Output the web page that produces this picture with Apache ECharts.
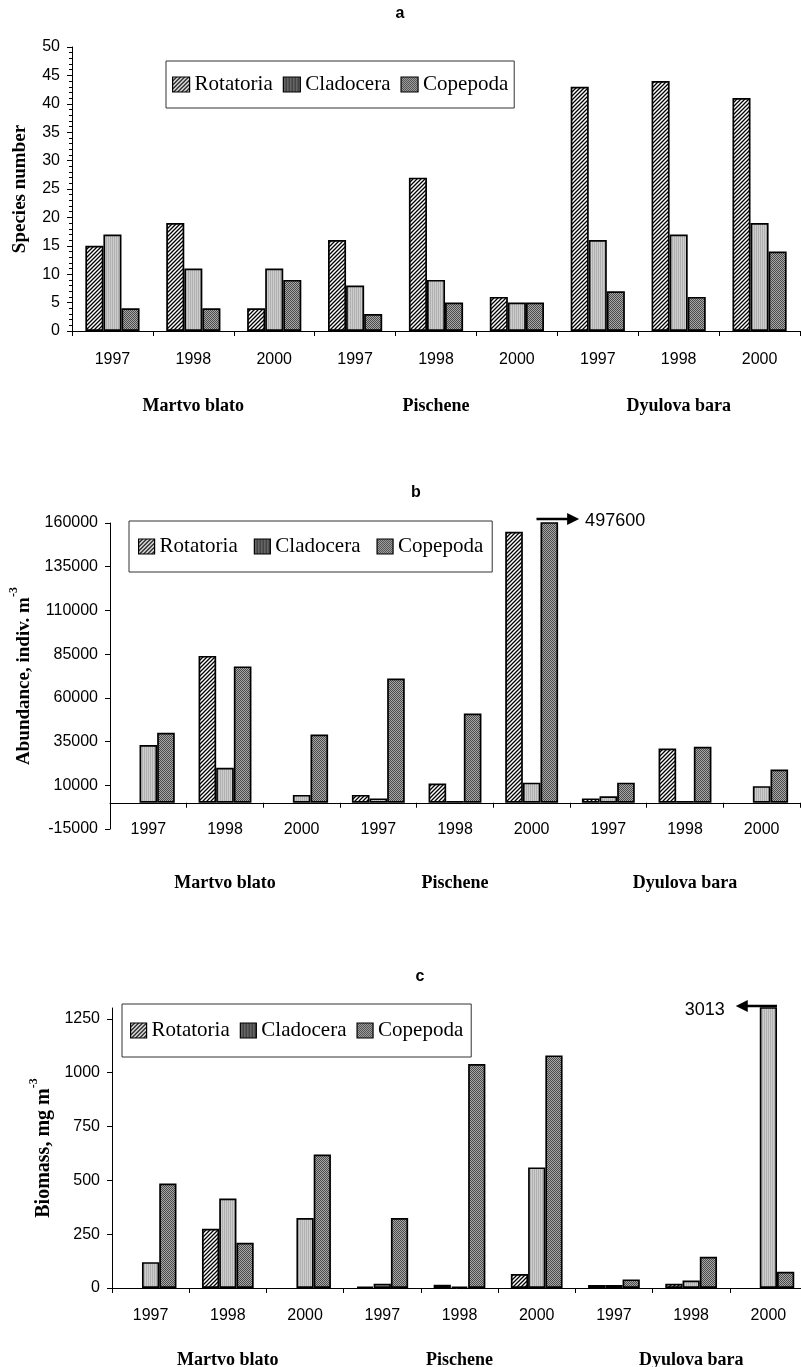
<!DOCTYPE html>
<html>
<head>
<meta charset="utf-8">
<script src="https://cdn.jsdelivr.net/npm/echarts@6/dist/echarts.min.js"></script>
<style>
  html, body { margin: 0; padding: 0; background: #fff; }
  #chart { width: 801px; height: 1367px; }
</style>
</head>
<body>
<div id="chart"></div>
<script>
// Categories
const years = ['1997', '1998', '2000', '1997', '1998', '2000', '1997', '1998', '2000'];
const sites = ['Martvo blato', 'Pischene', 'Dyulova bara'];
const taxa = ['Rotatoria', 'Cladocera', 'Copepoda'];

// a — species number
const speciesRotatoria = [15, 19, 4, 16, 27, 6, 43, 44, 41];
const speciesCladocera = [17, 11, 11, 8, 9, 5, 16, 17, 19];
const speciesCopepoda  = [4, 4, 9, 3, 5, 5, 7, 6, 14];

// b — abundance, indiv. m-3 (null = not recorded)
const abundRotatoria = [null, 84000, null, 4500, 11000, 155000, 2500, 31000, null];
const abundCladocera = [33000, 20000, 4500, 2500, 1000, 11500, 3700, 1000, 9500];
const abundCopepoda  = [40000, 78000, 39000, 71000, 51000, 497600, 11500, 32000, 19000];
const abundTicks = [-15000, 10000, 35000, 60000, 85000, 110000, 135000, 160000];

// c — biomass, mg m-3
const biomRotatoria = [null, 275, null, 6, 15, 65, 14, 20, null];
const biomCladocera = [120, 415, 325, 20, 7, 560, 14, 35, 3013];
const biomCopepoda  = [485, 210, 620, 325, 1040, 1080, 40, 145, 75];
const biomTicks = [0, 250, 500, 750, 1000, 1250];

// Fill textures
function tile(w, h, draw) {
  const c = document.createElement('canvas');
  c.width = w; c.height = h;
  draw(c.getContext('2d'));
  return { image: c, repeat: 'repeat' };
}
const hatchFill = tile(4, 4, (g) => {
  g.fillStyle = '#fff'; g.fillRect(0, 0, 4, 4);
  g.strokeStyle = '#000'; g.lineWidth = 1.3;
  g.beginPath();
  g.moveTo(-1, 5); g.lineTo(5, -1);
  g.moveTo(-1, 1); g.lineTo(1, -1);
  g.moveTo(3, 5); g.lineTo(5, 3);
  g.stroke();
});
const lightFill = tile(2, 2, (g) => {
  g.fillStyle = '#cdcdcd'; g.fillRect(0, 0, 2, 2);
  g.fillStyle = '#b0b0b0'; g.fillRect(0, 0, 1, 2);
});
const checkFill = tile(2, 2, (g) => {
  g.fillStyle = '#a8a8a8'; g.fillRect(0, 0, 2, 2);
  g.fillStyle = '#4a4a4a'; g.fillRect(0, 0, 1, 1); g.fillRect(1, 1, 1, 1);
});
// legend key for Cladocera is drawn darker, with vertical stripes
const stripeKey = tile(3, 1, (g) => {
  g.fillStyle = '#444'; g.fillRect(0, 0, 3, 1);
  g.fillStyle = '#777'; g.fillRect(1, 0, 1, 1);
});
const fills = [hatchFill, lightFill, checkFill];
const legendFills = [hatchFill, stripeKey, checkFill];

const SANS = 'Liberation Sans';
const SERIF = 'Liberation Serif';

const panels = [
  { data: [speciesRotatoria, speciesCladocera, speciesCopepoda],
    grid: { left: 72, top: 47, width: 728, height: 284 },
    y: { min: 0, max: 50, interval: 5 }, minor: true,
    yName: 'Species number', nameGap: 42, nameSize: 19,
    gap: '33%', yearMargin: 21, siteMargin: 66,
    legend: { left: 166, top: 61, padding: [13, 6, 13, 6], itemGap: 10, itemWidth: 17 } },
  { data: [abundRotatoria, abundCladocera, abundCopepoda],
    grid: { left: 110, top: 523, width: 690, height: 306 },
    y: { min: -15000, max: 160000, ticks: abundTicks }, minor: false,
    yName: '{t|Abundance, indiv. m}{s|-3}', nameGap: 72, nameSize: 19,
    gap: '31%', yearMargin: -7, siteMargin: 45,
    legend: { left: 129, top: 521, padding: [15, 9, 15, 9], itemGap: 16, itemWidth: 16 } },
  { data: [biomRotatoria, biomCladocera, biomCopepoda],
    grid: { left: 112, top: 1008, width: 695, height: 280 },
    y: { min: 0, max: 1300, ticks: biomTicks }, minor: false,
    yName: '{t|Biomass, mg m}{s|-3}', nameGap: 56, nameSize: 20,
    gap: '33%', yearMargin: 20, siteMargin: 63,
    legend: { left: 122, top: 1004, padding: [16, 8, 16, 8], itemGap: 10, itemWidth: 16 } }
];

const option = {
  animation: false,
  backgroundColor: '#fff',
  grid: [], xAxis: [], yAxis: [], series: [], legend: [],
  graphic: []
};

panels.forEach((p, i) => {
  option.grid.push(Object.assign({ containLabel: false, outerBoundsMode: 'none' }, p.grid));
  // years
  option.xAxis.push({
    type: 'category', gridIndex: i, data: years,
    axisLine: { show: true, onZero: true, lineStyle: { color: '#000', width: 1 } },
    axisTick: { show: true, length: 5, lineStyle: { color: '#000' } },
    axisLabel: { interval: 0, margin: p.yearMargin, color: '#000', fontFamily: SANS, fontSize: 16 },
    splitLine: { show: false }
  });
  // sites
  option.xAxis.push({
    type: 'category', gridIndex: i, position: 'bottom', data: sites,
    axisLine: { show: false, onZero: false }, axisTick: { show: false },
    axisLabel: { interval: 0, margin: p.siteMargin, color: '#000', fontFamily: SERIF, fontWeight: 'bold', fontSize: 18 },
    splitLine: { show: false }
  });
  const y = {
    type: 'value', gridIndex: i, min: p.y.min, max: p.y.max,
    name: p.yName, nameLocation: 'middle', nameRotate: 90, nameGap: p.nameGap,
    nameTextStyle: {
      color: '#000', fontFamily: SERIF, fontWeight: 'bold', fontSize: p.nameSize,
      rich: {
        t: { fontFamily: SERIF, fontWeight: 'bold', fontSize: p.nameSize, color: '#000', lineHeight: 26, verticalAlign: 'bottom' },
        s: { fontFamily: SERIF, fontWeight: 'bold', fontSize: 12, color: '#000', verticalAlign: 'top', lineHeight: 12 }
      }
    },
    axisLine: { show: true, lineStyle: { color: '#000', width: 1 } },
    axisTick: { show: true, length: 5, lineStyle: { color: '#000' } },
    minorTick: { show: p.minor, splitNumber: 5, length: 3, lineStyle: { color: '#000' } },
    axisLabel: { margin: 12, color: '#000', fontFamily: SANS, fontSize: 16, formatter: (v) => String(v) },
    splitLine: { show: false }
  };
  if (p.y.interval) {
    y.interval = p.y.interval;
  } else {
    y.axisTick.customValues = p.y.ticks;
    y.axisLabel.customValues = p.y.ticks;
  }
  option.yAxis.push(y);

  taxa.forEach((name, k) => {
    option.series.push({
      type: 'bar', name, data: p.data[k],
      xAxisIndex: i * 2, yAxisIndex: i,
      barGap: '0%', barCategoryGap: p.gap,
      itemStyle: { color: fills[k], borderColor: '#000', borderWidth: 1.7 },
      clip: true
    });
  });

  option.legend.push({
    data: taxa.map((name, k) => ({ name, itemStyle: { color: legendFills[k], borderColor: '#000', borderWidth: 1.2 } })),
    orient: 'horizontal',
    left: p.legend.left, top: p.legend.top, padding: p.legend.padding,
    itemGap: p.legend.itemGap, itemWidth: p.legend.itemWidth, itemHeight: 15,
    icon: 'rect', selectedMode: false,
    borderColor: '#333', borderWidth: 1, backgroundColor: '#fff',
    textStyle: { color: '#000', fontFamily: SERIF, fontSize: 21 }
  });
});

// panel letters
[['a', 400, 14], ['b', 416, 493], ['c', 420, 977]].forEach(([t, x, yy]) => {
  option.graphic.push({
    type: 'text', x, y: yy,
    style: { text: t, fill: '#000', font: 'bold 16px ' + SANS, textAlign: 'center', textVerticalAlign: 'middle' }
  });
});

const chart = echarts.init(document.getElementById('chart'), null, { renderer: 'canvas' });
chart.setOption(option);

// Off-scale bars: arrows with the true value at the clipped top
function layoutOf(seriesIndex, dataIndex) {
  return chart.getModel().getSeriesByIndex(seriesIndex).getData().getItemLayout(dataIndex);
}
const arrows = [];
{
  // b: Copepoda, Pischene 2000 — arrow to the right
  const idx = 5;
  const r = layoutOf(5, idx);
  const top = chart.convertToPixel({ yAxisIndex: 1 }, abundTicks[abundTicks.length - 1]) - 4;
  const x0 = r.x - 4, tip = r.x + r.width + 21;
  arrows.push(
    { type: 'line', shape: { x1: x0, y1: top, x2: tip - 10, y2: top }, style: { stroke: '#000', lineWidth: 2.5 }, z: 100 },
    { type: 'polygon', shape: { points: [[tip, top], [tip - 12, top - 6], [tip - 12, top + 6]] }, style: { fill: '#000' }, z: 100 },
    { type: 'text', x: tip + 6, y: top + 2, style: { text: String(abundCopepoda[idx]), fill: '#000', font: '18px ' + SANS, textAlign: 'left', textVerticalAlign: 'middle' }, z: 100 }
  );
}
{
  // c: Cladocera, Dyulova bara 2000 — arrow to the left
  const idx = 8;
  const r = layoutOf(7, idx);
  const top = chart.convertToPixel({ yAxisIndex: 2 }, 1300) - 2;
  const x0 = r.x + r.width, tip = r.x - 24;
  arrows.push(
    { type: 'line', shape: { x1: x0, y1: top, x2: tip + 10, y2: top }, style: { stroke: '#000', lineWidth: 2.5 }, z: 100 },
    { type: 'polygon', shape: { points: [[tip, top], [tip + 12, top - 6], [tip + 12, top + 6]] }, style: { fill: '#000' }, z: 100 },
    { type: 'text', x: tip - 11, y: top + 4, style: { text: String(biomCladocera[idx]), fill: '#000', font: '18px ' + SANS, textAlign: 'right', textVerticalAlign: 'middle' }, z: 100 }
  );
}
chart.setOption({ graphic: option.graphic.concat(arrows) });
</script>
</body>
</html>
